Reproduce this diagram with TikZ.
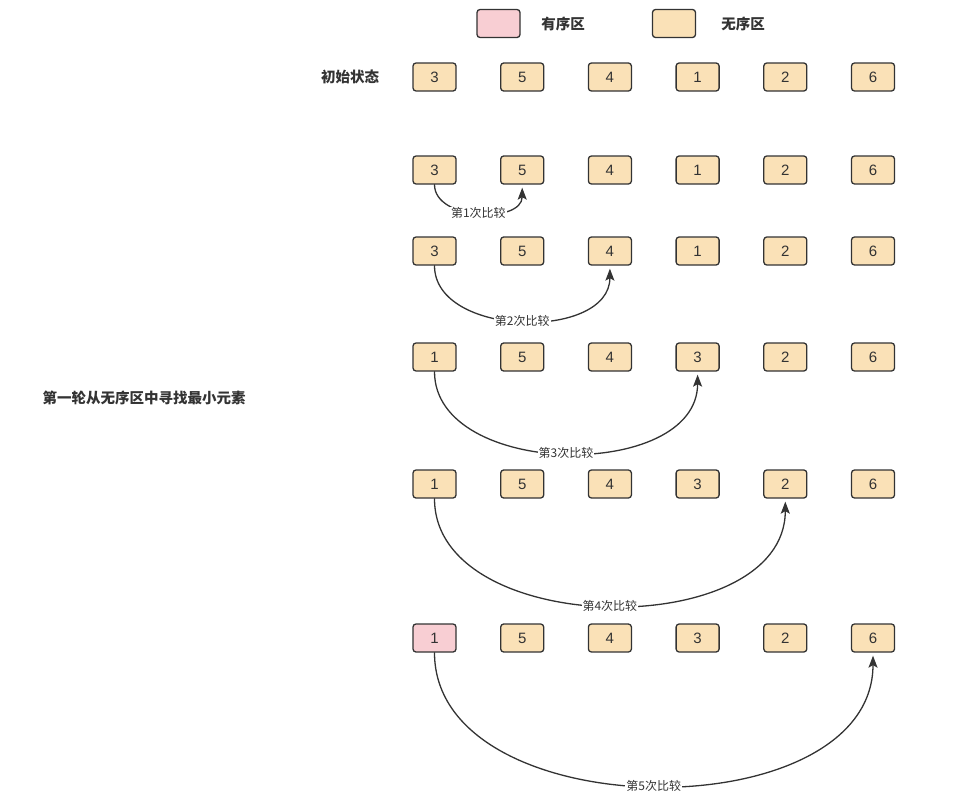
\documentclass[tikz,border=0pt]{standalone}
\usepackage{fontspec}
\setmainfont{Noto Sans CJK SC}
\newfontfamily\shuzi{Liberation Sans}
\usetikzlibrary{arrows.meta}
\definecolor{wuxu}{HTML}{FAE1B7}
\definecolor{youxu}{HTML}{F8CED3}
\definecolor{xian}{HTML}{333333}
\begin{document}
\begin{tikzpicture}[x=1pt, y=-1pt, line join=round, line cap=round,
		>={Stealth[length=12pt,width=9pt,inset=2.5pt]},
		box/.style={draw=xian, line width=1.3pt, rounded corners=3pt, minimum width=43pt, minimum height=28pt, inner sep=0pt, fill=wuxu, text=xian, font=\shuzi\fontsize{15}{17}\selectfont},
		bi/.style={draw=xian, line width=1.3pt, ->},
		lab/.style={fill=white, inner sep=1pt, text=xian, font=\fontsize{12}{14}\selectfont},
		tit/.style={text=xian, font=\fontsize{14.5}{16}\selectfont\bfseries}]
				\useasboundingbox (0,0) rectangle (971,803);
				\def\x{434.5}
				\def\d{87.7}
				
				% legend
				\node (L1) at (498.5,23.5) [box, fill=youxu] {};
				\node (T1) at (563,23.5) [tit] {有序区};
				\node (L2) at (674,23.5) [box] {};
				\node (T2) at (743,23.5) [tit] {无序区};
				
				\node (S0) at (350,77) [tit] {初始状态};
				\node (S1) at (144,398) [tit] {第一轮从无序区中寻找最小元素};
				
				% rows
				\foreach \r/\y/\v in {a/77/{3,5,4,1,2,6}, b/170/{3,5,4,1,2,6}, c/251/{3,5,4,1,2,6}, d/357/{1,5,4,3,2,6}, e/484/{1,5,4,3,2,6}}
					\foreach \n [count=\i] in \v
						\node (\r\i) at ({\x+\d*(\i-1)},\y) [box] {\n};
				\node (f1) at (\x,638) [box, fill=youxu] {1};
				\foreach \n [count=\i from 2] in {5,4,3,2,6}
					\node (f\i) at ({\x+\d*(\i-1)},638) [box] {\n};
				
				% comparisons
				\draw[bi] (b1.south) .. controls +(0,36) and +(0,36) .. ([yshift=-3pt]b2.south) node[midway, lab] {第1次比较};
				\draw[bi] (c1.south) .. controls +(0,72) and +(0,72) .. ([yshift=-3pt]c3.south) node[midway, lab] {第2次比较};
				\draw[bi] (d1.south) .. controls +(0,107) and +(0,107) .. ([yshift=-3pt]d4.south) node[midway, lab] {第3次比较};
				\draw[bi] (e1.south) .. controls +(0,141) and +(0,141) .. ([yshift=-3pt]e5.south) node[midway, lab] {第4次比较};
				\draw[bi] (f1.south) .. controls +(0,176) and +(0,176) .. ([yshift=-3pt]f6.south) node[midway, lab] {第5次比较};
		\end{tikzpicture}
\end{document}
